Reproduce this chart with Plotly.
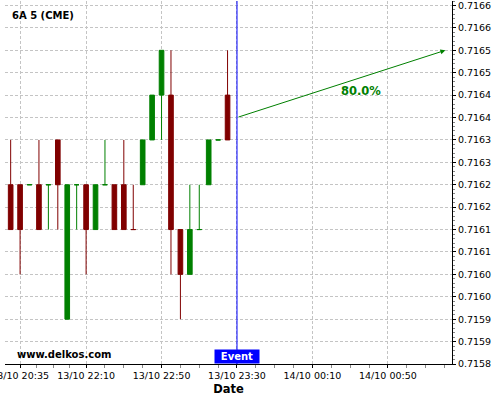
import numpy as np
import plotly.graph_objects as go

# ---- data ----
candle_index = list(range(24))
opens  = [0.7162, 0.7162, 0.7162, 0.7162, 0.7162, 0.7163, 0.7159, 0.7162, 0.7162, 0.7161, 0.7162, 0.7162,
          0.7162, 0.7161, 0.7162, 0.7163, 0.7164, 0.7164, 0.7161, 0.7160, 0.7161, 0.7162, 0.7163, 0.7164]
highs  = [0.7163, 0.7162, 0.7162, 0.7163, 0.7162, 0.7163, 0.7162, 0.7162, 0.7162, 0.7162, 0.7163, 0.7162,
          0.7163, 0.7162, 0.7163, 0.7164, 0.7165, 0.7165, 0.7161, 0.7162, 0.7162, 0.7163, 0.7163, 0.7165]
lows   = [0.7161, 0.7160, 0.7162, 0.7161, 0.7161, 0.7161, 0.7159, 0.7161, 0.7160, 0.7161, 0.7162, 0.7161,
          0.7161, 0.7161, 0.7162, 0.7163, 0.7163, 0.7160, 0.7159, 0.7160, 0.7161, 0.7162, 0.7163, 0.7163]
closes = [0.7161, 0.7161, 0.7162, 0.7161, 0.7162, 0.7162, 0.7162, 0.7162, 0.7161, 0.7162, 0.7162, 0.7161,
          0.7161, 0.7161, 0.7163, 0.7164, 0.7165, 0.7161, 0.7160, 0.7161, 0.7161, 0.7163, 0.7163, 0.7163]

x_tick_index = [1, 8, 16, 24, 32, 40]
x_tick_labels = ["13/10 20:35", "13/10 22:10", "13/10 22:50", "13/10 23:30", "14/10 00:10", "14/10 00:50"]

y_tick_values = [0.71580, 0.71585, 0.71590, 0.71595, 0.71600, 0.71605, 0.71610, 0.71615, 0.71620,
                 0.71625, 0.71630, 0.71635, 0.71640, 0.71645, 0.71650, 0.71655, 0.71660]
y_tick_labels = ["0.7158", "0.7159", "0.7159", "0.7160", "0.7160", "0.7161", "0.7161", "0.7162", "0.7162",
                 "0.7163", "0.7163", "0.7164", "0.7164", "0.7165", "0.7165", "0.7166", "0.7166"]

event_index = 24
arrow_start = (24, 0.71635)
arrow_end = (46.1, 0.7165)
probability_label = "80.0%"
probability_pos = (37.2, 0.71641)
title_text = "6A 5 (CME)"
watermark = "www.delkos.com"

GREEN = "#008000"
RED = "#800000"
FONT = "DejaVu Sans"

# minor x ticks: 4 subdivisions between major ticks
minor_x = []
for a, b in zip(x_tick_index[:-1], x_tick_index[1:]):
    minor_x += list(np.linspace(a, b, 5)[1:-1])
step = x_tick_index[-1] - x_tick_index[-2]
minor_x += [x_tick_index[-1] + step / 4 * k for k in (1, 2, 3)]

fig = go.Figure()
fig.add_trace(go.Candlestick(
    x=candle_index, open=opens, high=highs, low=lows, close=closes,
    increasing=dict(line=dict(color=GREEN, width=1), fillcolor=GREEN),
    decreasing=dict(line=dict(color=RED, width=1), fillcolor=RED),
    whiskerwidth=0, showlegend=False, hoverinfo="skip",
))

fig.add_shape(type="line", xref="x", yref="paper", x0=event_index, x1=event_index, y0=0, y1=1,
              line=dict(color="#0000ff", width=1), layer="above")

fig.add_annotation(x=arrow_end[0], y=arrow_end[1], ax=arrow_start[0], ay=arrow_start[1],
                   xref="x", yref="y", axref="x", ayref="y", text="", showarrow=True,
                   arrowhead=2, arrowsize=1, arrowwidth=1, arrowcolor=GREEN, standoff=0, startstandoff=0)
fig.add_annotation(x=probability_pos[0], y=probability_pos[1], xref="x", yref="y",
                   text=probability_label, showarrow=False,
                   font=dict(family=FONT, size=11.5, color=GREEN, weight="bold"))
fig.add_annotation(x=event_index, y=0, xref="x", yref="paper", yanchor="bottom", xanchor="center",
                   text="Event", showarrow=False, bgcolor="#0000ff", width=44, height=13, borderpad=0,
                   font=dict(family=FONT, size=10, color="white", weight="bold"))
fig.add_annotation(x=0.0112, y=0.96, xref="paper", yref="paper", xanchor="left", yanchor="middle",
                   text=title_text, showarrow=False,
                   font=dict(family=FONT, size=10, color="black", weight="bold"))
fig.add_annotation(x=0.0224, y=0.0275, xref="paper", yref="paper", xanchor="left", yanchor="middle",
                   text=watermark, showarrow=False,
                   font=dict(family=FONT, size=10, color="black", weight="bold"))

fig.update_layout(
    width=500, height=400,
    margin=dict(l=5, r=48, t=1, b=36),
    paper_bgcolor="white", plot_bgcolor="white",
    font=dict(family=FONT, size=9.5, color="black"),
    showlegend=False,
    xaxis=dict(
        range=[-0.6, 46.8], rangeslider=dict(visible=False), automargin=False,
        tickmode="array", tickvals=x_tick_index, ticktext=x_tick_labels,
        ticks="outside", ticklen=3, tickcolor="black", tickfont=dict(size=9.5),
        ticklabeloverflow="allow",
        showline=True, linecolor="black", linewidth=1, mirror=False,
        showgrid=True, gridcolor="#c4c4c4", gridwidth=1, griddash="3px,2px", zeroline=False,
        minor=dict(tickmode="array", tickvals=minor_x, ticks="outside", ticklen=3, tickcolor="#888888",
                   showgrid=False),
        title=dict(text="Date", font=dict(size=11.5, weight="bold"), standoff=4),
    ),
    yaxis=dict(
        side="right", range=[0.71580, 0.71661], automargin=False,
        tickmode="array", tickvals=y_tick_values, ticktext=y_tick_labels,
        ticks="outside", ticklen=3, tickcolor="black", tickfont=dict(size=9.5),
        ticklabeloverflow="allow",
        showline=True, linecolor="black", linewidth=1,
        showgrid=True, gridcolor="#c4c4c4", gridwidth=1, griddash="3px,2px", zeroline=False,
        minor=dict(tickmode="linear", tick0=0.7158, dtick=0.00001, ticks="outside", ticklen=2,
                   tickcolor="#888888", showgrid=False),
    ),
)

fig.write_html("out.html", config={"displayModeBar": False},
               post_script="document.body.style.margin='0';")
